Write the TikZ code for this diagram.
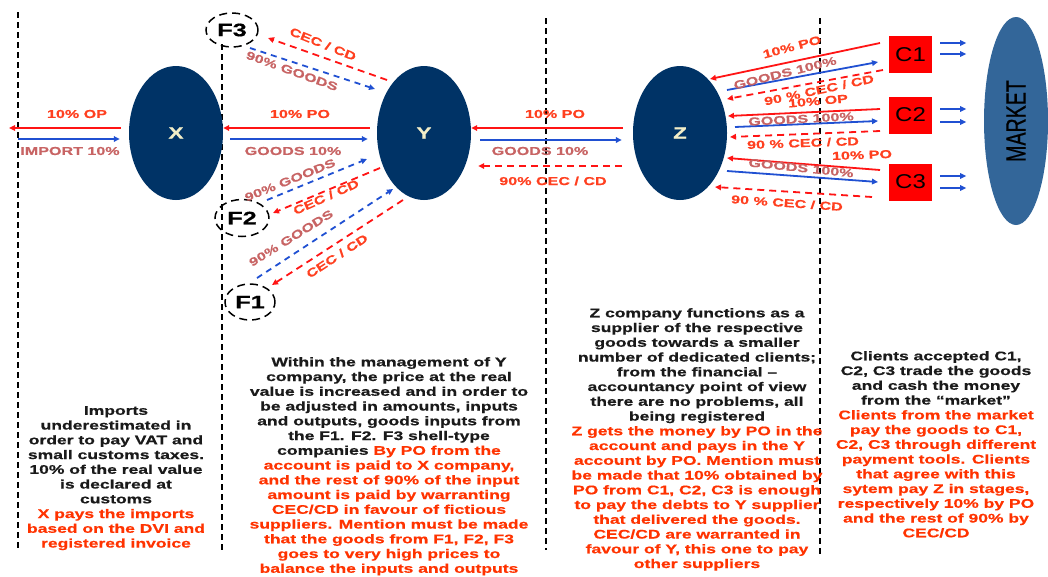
\documentclass[tikz,border=0pt]{standalone}
\usepackage{fontspec}
\setmainfont{Liberation Sans}
\newfontfamily\wf{Liberation Sans Bold}[FakeStretch=1.4, FakeBold=0.6]
\newfontfamily\cf{Liberation Sans}[FakeStretch=1.2]
\newfontfamily\mf{Liberation Sans}[FakeStretch=0.7, FakeBold=0.5]
\usetikzlibrary{arrows.meta,shapes.geometric}
\definecolor{navy}{HTML}{003366}
\definecolor{steel}{HTML}{336699}
\definecolor{pale}{HTML}{F2EEC8}
\definecolor{ared}{HTML}{FF1414}
\definecolor{ablue}{HTML}{2050D2}
\definecolor{lred}{HTML}{FF4020}
\definecolor{lgood}{HTML}{C86464}
\definecolor{tred}{HTML}{FF3300}
\definecolor{tblack}{HTML}{1A1A1A}
\newcommand\rl{\color{tred}}
\begin{document}
\begin{tikzpicture}[x=1pt,y=-1pt,
  vline/.style={draw=black, line width=2pt, dash pattern=on 6pt off 4pt},
  ra/.style={draw=ared, line width=1.8pt, -{Triangle[length=6pt,width=5.5pt]}},
  ba/.style={draw=ablue, line width=1.8pt, -{Triangle[length=6pt,width=5.5pt]}},
  rda/.style={ra, dash pattern=on 7pt off 5pt},
  bda/.style={ba, dash pattern=on 6pt off 5pt},
  lbl/.style={font=\wf\fontsize{11.5}{12}\selectfont, inner sep=0pt},
  lr/.style={lbl, text=lred},
  lg/.style={lbl, text=lgood},
  company/.style={ellipse, fill=navy, minimum width=94pt, minimum height=134pt, inner sep=0pt, text=pale, font=\wf\fontsize{16}{16}\selectfont},
  fnode/.style={ellipse, draw=black, line width=1.5pt, dash pattern=on 8pt off 5pt, inner sep=0pt, font=\wf\fontsize{18}{18}\selectfont},
  cbox/.style={rectangle, fill=red, minimum width=43pt, minimum height=37pt, inner sep=0pt, font=\cf\fontsize{20}{20}\selectfont},
  blk/.style={align=center, anchor=north, inner sep=0pt, text=tblack, font=\wf\fontsize{12.5}{14.75}\selectfont}
]
\useasboundingbox (0,0) rectangle (1048,576);
\fill[white] (0,0) rectangle (1048,576);

% dividers
\draw[vline] (18,12) -- (18,548);
\draw[vline] (222,44) -- (222,550);
\draw[vline] (546,18) -- (546,550);
\draw[vline] (820,18) -- (820,555);

% main nodes
\node[company] (X) at (176,133) {X};
\node[company] (Y) at (424,133) {Y};
\node[company] (Z) at (680,133) {Z};
\node[ellipse, fill=steel, minimum width=208pt, minimum height=64pt, inner sep=0pt, rotate=90, font=\mf\fontsize{28}{28}\selectfont] (M) at (1016,121) {MARKET};
\node[cbox] (C1) at (910.5,54.5) {C1};
\node[cbox] (C2) at (910.5,115) {C2};
\node[cbox] (C3) at (910.5,182) {C3};
\node[fnode, minimum width=52pt, minimum height=34pt] (F3) at (232,30) {F3};
\node[fnode, minimum width=54pt, minimum height=37pt] (F2) at (242,218) {F2};
\node[fnode, minimum width=50pt, minimum height=36pt] (F1) at (250,302) {F1};

% free ends
\coordinate (outL) at (9,128);
\coordinate (inL) at (18,139);

% X left
\draw[ra] ([xshift=-8pt,yshift=5pt]X.west) -- (outL);
\draw[ba] (inL) -- ([xshift=-9pt,yshift=-6pt]X.west);
% X-Y
\draw[ra] ([xshift=-7pt,yshift=5pt]Y.west) -- ([yshift=5pt]X.east);
\draw[ba] ([xshift=7pt,yshift=-6pt]X.east) -- ([xshift=-9pt,yshift=-6pt]Y.west);
% Y-Z
\draw[ra] ([xshift=-10pt,yshift=5pt]Z.west) -- ([yshift=5pt]Y.east);
\draw[ba] ([xshift=9pt,yshift=-7pt]Y.east) -- ([xshift=-11pt,yshift=-7pt]Z.west);
\draw[rda] ([xshift=-11pt,yshift=-33pt]Z.west) -- ([xshift=7pt,yshift=-33pt]Y.east);

% F connectors endpoints
\coordinate (yF3r) at (387,80);  \coordinate (f3r) at (268,38);
\coordinate (f3b) at (250,48);   \coordinate (yF3b) at (375,89);
\coordinate (f2b) at (267,200);  \coordinate (yF2b) at (367,159);
\coordinate (yF2r) at (380,168); \coordinate (f2r) at (273,213);
\coordinate (f1b) at (257,278);  \coordinate (yF1b) at (393,189);
\coordinate (yF1r) at (403,200); \coordinate (f1r) at (272,285);
\draw[rda] (yF3r) -- (f3r);
\draw[bda] (f3b) -- (yF3b);
\draw[bda] (f2b) -- (yF2b);
\draw[rda] (yF2r) -- (f2r);
\draw[bda] (f1b) -- (yF1b);
\draw[rda] (yF1r) -- (f1r);

% Z - C connectors endpoints
\coordinate (c1r) at (880,43);  \coordinate (z1r) at (710,79);
\coordinate (z1b) at (727,90);  \coordinate (c1b) at (878,62);
\coordinate (c1d) at (883,70);  \coordinate (z1d) at (727,99);
\coordinate (c2r) at (880,109); \coordinate (z2r) at (728,116);
\coordinate (z2b) at (735,127); \coordinate (c2b) at (878,121);
\coordinate (c2d) at (880,131); \coordinate (z2d) at (730,137);
\coordinate (c3r) at (880,170); \coordinate (z3r) at (727,158);
\coordinate (z3b) at (727,171); \coordinate (c3b) at (878,182);
\coordinate (c3d) at (872,197); \coordinate (z3d) at (715,187);
\draw[ra] (c1r) -- (z1r);
\draw[ba] (z1b) -- (c1b);
\draw[rda] (c1d) -- (z1d);
\draw[ra] (c2r) -- (z2r);
\draw[ba] (z2b) -- (c2b);
\draw[rda] (c2d) -- (z2d);
\draw[ra] (c3r) -- (z3r);
\draw[ba] (z3b) -- (c3b);
\draw[rda] (c3d) -- (z3d);

% C - market arrows
\draw[ba] ([xshift=8pt,yshift=11.5pt]C1.east) -- ++(26pt,0pt) coordinate (m1a);
\draw[ba] ([xshift=8pt,yshift=0.5pt]C1.east) -- ++(26pt,0pt) coordinate (m1b);
\draw[ba] ([xshift=8pt,yshift=6pt]C2.east) -- ++(26pt,0pt) coordinate (m2a);
\draw[ba] ([xshift=8pt,yshift=-7pt]C2.east) -- ++(26pt,0pt) coordinate (m2b);
\draw[ba] ([xshift=8pt,yshift=6pt]C3.east) -- ++(26pt,0pt) coordinate (m3a);
\draw[ba] ([xshift=8pt,yshift=-6pt]C3.east) -- ++(26pt,0pt) coordinate (m3b);

% labels
\node[lr] (lOP) at (77,114) {10\% OP};
\node[lg] (lIMP) at (70,151) {IMPORT 10\%};
\node[lr] (lPO1) at (300,114) {10\% PO};
\node[lg] (lG1) at (293,151) {GOODS 10\%};
\node[lr] (lPO2) at (555,114) {10\% PO};
\node[lg] (lG2) at (540,151) {GOODS 10\%};
\node[lr] (lCC2) at (553,181) {90\% CEC / CD};
\node[lr, rotate=-22] (lF3c) at (323,44) {CEC / CD};
\node[lg, rotate=-20] (lF3g) at (292,71) {90\% GOODS};
\node[lg, rotate=22] (lF2g) at (290,180) {90\% GOODS};
\node[lr, rotate=24] (lF2c) at (326,197) {CEC / CD};
\node[lg, rotate=32] (lF1g) at (291,238) {90\% GOODS};
\node[lr, rotate=33] (lF1c) at (337,256) {CEC / CD};
\node[lr, rotate=15] (lC1p) at (792,47) {10\% PO};
\node[lg, rotate=14] (lC1g) at (785,73) {GOODS 100\%};
\node[lr, rotate=12] (lC1c) at (819,90) {90 \% CEC / CD};
\node[lr, rotate=5] (lC2p) at (818,101) {10\% OP};
\node[lg, rotate=3] (lC2g) at (801,119) {GOODS 100\%};
\node[lr, rotate=2] (lC2c) at (803,143) {90 \% CEC / CD};
\node[lr, rotate=2] (lC3p) at (862,155) {10\% PO};
\node[lg, rotate=-6] (lC3g) at (801,168) {GOODS 100\%};
\node[lr, rotate=-4] (lC3c) at (787,203) {90 \% CEC / CD};

% text blocks
\node[blk] (t1) at (116,406) {Imports\\underestimated in\\order to pay VAT and\\small customs taxes.\\10\% of the real value\\is declared at\\customs\\\rl X pays the imports\\\rl based on the DVI and\\\rl registered invoice};
\node[blk] (t2) at (389,357) {Within the management of Y\\company, the price at the real\\value is increased and in order to\\be adjusted in amounts, inputs\\and outputs, goods inputs from\\the F1. F2. F3 shell-type\\companies {\rl By PO from the}\\\rl account is paid to X company,\\\rl and the rest of 90\% of the input\\\rl amount is paid by warranting\\\rl CEC/CD in favour of fictious\\\rl suppliers. Mention must be made\\\rl that the goods from F1, F2, F3\\\rl goes to very high prices to\\\rl balance the inputs and outputs};
\node[blk] (t3) at (697,308) {Z company functions as a\\supplier of the respective\\goods towards a smaller\\number of dedicated clients;\\from the financial –\\accountancy point of view\\there are no problems, all\\being registered\\\rl Z gets the money by PO in the\\\rl account and pays in the Y\\\rl account by PO. Mention must\\\rl be made that 10\% obtained by\\\rl PO from C1, C2, C3 is enough\\\rl to pay the debts to Y supplier\\\rl that delivered the goods.\\\rl CEC/CD are warranted in\\\rl favour of Y, this one to pay\\\rl other suppliers};
\node[blk] (t4) at (936,351) {Clients accepted C1,\\C2, C3 trade the goods\\and cash the money\\from the “market”\\\rl Clients from the market\\\rl pay the goods to C1,\\\rl C2, C3 through different\\\rl payment tools. Clients\\\rl that agree with this\\\rl sytem pay Z in stages,\\\rl respectively 10\% by PO\\\rl and the rest of 90\% by\\\rl CEC/CD};
\end{tikzpicture}
\end{document}
